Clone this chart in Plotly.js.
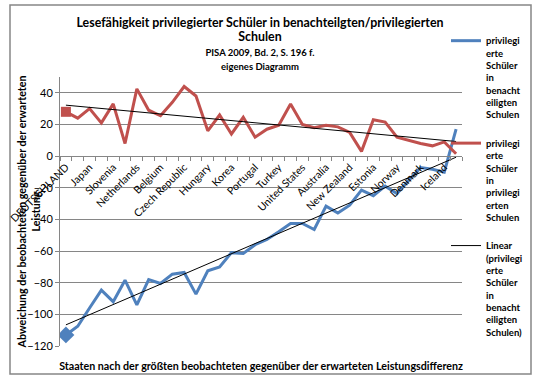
<!DOCTYPE html>
<html><head><meta charset="utf-8">
<script src="https://cdn.plot.ly/plotly-3.0.1.min.js"></script>
<style>html,body{margin:0;padding:0;background:#fff}#chart{width:546px;height:381px}</style>
</head><body><div id="chart"></div>
<script>
// categories (only every other one is labelled in the original)
const categories = ['DEUTSCHLAND','','Japan','','Slovenia','','Netherlands','','Belgium','','Czech Republic','','Hungary','','Korea','','Portugal','','Turkey','','United States','','Australia','','New Zealand','','Estonia','','Norway','','Denmark','','Iceland',''];
// privileged students in disadvantaged schools
const benachteiligt = [-113, -107.5, -96, -84.7, -92, -78.4, -94, -78, -80.5, -74.6, -73.5, -87.2, -72.5, -70, -61, -61.5, -56, -52.7, -47.8, -42.6, -42.6, -46.4, -31.6, -36, -31, -21.5, -25, -19, -23.6, -15.7, -7.2, -8.3, -10.2, 17];
// privileged students in privileged schools
const privilegiert = [28, 24, 30, 21, 33, 8, 42.5, 29, 25.5, 34, 44, 38, 16, 26, 14, 24.5, 12, 17, 19.5, 33, 20, 18, 19.5, 18.5, 15, 3, 23, 21.5, 12, 10, 8, 6.5, 9, 1.5];
const name1 = 'privilegi<br>erte<br>Schüler<br>in<br>benacht<br>eiligten<br>Schulen';
const name2 = 'privilegi<br>erte<br>Schüler<br>in<br>privilegi<br>erten<br>Schulen';
const name3 = 'Linear<br>(privilegi<br>erte<br>Schüler<br>in<br>benacht<br>eiligten<br>Schulen)';
const titleText =
  '<span style="font-size:12.4px">Lesefähigkeit privilegierter Schüler in benachteilgten/privilegierten</span>' +
  '<br><span style="font-size:12.4px">Schulen</span>' +
  '<br><span style="font-size:9.5px">PISA 2009, Bd. 2, S. 196 f.</span>' +
  '<br><span style="font-size:9.5px">eigenes Diagramm</span>';
const xTitle = 'Staaten nach der größten beobachteten gegenüber der erwarteten Leistungsdifferenz';
const yTitle = 'Abweichung der beobachteten gegenüber der erwarteten<br>Leistung';

const idx = categories.map((c, i) => i);
const tickvals = idx.filter(i => categories[i] !== '');
const ticktext = tickvals.map(i => categories[i]);
const bounds = idx.map(i => i - 0.5).concat([categories.length - 0.5]);

function linfit(ys) {
  const n = ys.length;
  let sx = 0, sy = 0, sxx = 0, sxy = 0;
  ys.forEach((y, x) => { sx += x; sy += y; sxx += x * x; sxy += x * y; });
  const b = (n * sxy - sx * sy) / (n * sxx - sx * sx);
  const a = (sy - b * sx) / n;
  return idx.map(x => a + b * x);
}

const BLUE = '#4F81BD', RED = '#C0504D', GRAY = '#868686';
const yRange = [-120, 50];
const xRange = [-0.5, categories.length - 0.5];

const traces = [
  {x: idx, y: benachteiligt, mode: 'lines', name: name1, line: {color: BLUE, width: 3}, legendgroup: 'a'},
  {x: idx, y: privilegiert, mode: 'lines', name: name2, line: {color: RED, width: 3}, legendgroup: 'b'},
  {x: [idx[0]], y: [benachteiligt[0]], mode: 'markers', showlegend: false, marker: {symbol: 'diamond', size: 13, color: BLUE}},
  {x: [idx[0]], y: [privilegiert[0]], mode: 'markers', showlegend: false, marker: {symbol: 'square', size: 10, color: RED}},
  {x: idx, y: linfit(benachteiligt), mode: 'lines', name: name3, line: {color: '#000', width: 1}, legendgroup: 'c'},
  {x: idx, y: linfit(privilegiert), mode: 'lines', showlegend: false, line: {color: '#000', width: 1}, xaxis: 'x2', yaxis: 'y2'}
];

// pixel geometry
const W = 546, H = 381;
const L = 10, R = 84, T = 77, B = 35;      // margins
const plotLeft = 60;                         // left edge of the drawing area
const pw = W - L - R, ph = H - T - B;
const px2fx = v => (v - L) / pw;
const py2fy = v => (H - B - v) / ph;

const layout = {
  width: W, height: H,
  margin: {l: L, r: R, t: T, b: B, pad: 0},
  paper_bgcolor: '#fff', plot_bgcolor: '#fff',
  font: {family: 'Lato, "Open Sans", sans-serif', color: '#000', size: 11},
  showlegend: true,
  title: {
    text: titleText, font: {size: 11, weight: 'bold'},
    x: 260 / W, xanchor: 'center', y: 1 - 27 / H, yanchor: 'top'
  },
  xaxis: {
    domain: [px2fx(plotLeft), 1],
    range: xRange, anchor: 'free', position: (0 - yRange[0]) / (yRange[1] - yRange[0]),
    showline: true, linecolor: GRAY, linewidth: 1, showgrid: false, zeroline: false,
    tickmode: 'array', tickvals: tickvals, ticktext: ticktext, ticks: '', tickangle: -45,
    tickfont: {size: 10.5},
    minor: {tickmode: 'array', tickvals: bounds, ticks: 'outside', ticklen: 4, tickcolor: GRAY, showgrid: false}
  },
  xaxis2: {
    domain: [px2fx(plotLeft), 1],
    range: xRange, overlaying: 'x', anchor: 'y', side: 'bottom',
    showline: false, showticklabels: false, ticks: '', showgrid: false, zeroline: false,
    title: {text: xTitle, font: {size: 10.7, weight: 'bold'}, standoff: 16}
  },
  yaxis: {
    range: yRange, tick0: 0, dtick: 20, showgrid: true, gridcolor: GRAY, gridwidth: 1,
    showline: true, linecolor: GRAY, ticks: 'outside', ticklen: 4, tickcolor: GRAY,
    zeroline: false, tickfont: {size: 11}
  },
  yaxis2: {
    range: yRange, overlaying: 'y', anchor: 'free', side: 'left', position: px2fx(46),
    showline: false, showticklabels: false, ticks: '', showgrid: false, zeroline: false,
    title: {text: yTitle, font: {size: 10.7, weight: 'bold'}, standoff: 2}
  },
  legend: {
    x: px2fx(446), xanchor: 'left', y: py2fy(28), yanchor: 'top',
    bgcolor: 'rgba(0,0,0,0)', font: {size: 9.5, weight: 'bold'},
    valign: 'top', tracegroupgap: 13, itemwidth: 30, maxheight: 380
  },
  shapes: [{
    type: 'rect', xref: 'paper', yref: 'paper',
    x0: px2fx(10), x1: px2fx(531), y0: py2fy(374), y1: py2fy(5),
    line: {color: GRAY, width: 1.5}, fillcolor: 'rgba(0,0,0,0)', layer: 'below'
  }]
};

Plotly.newPlot('chart', traces, layout, {displayModeBar: false, responsive: false});
</script>
</body></html>
